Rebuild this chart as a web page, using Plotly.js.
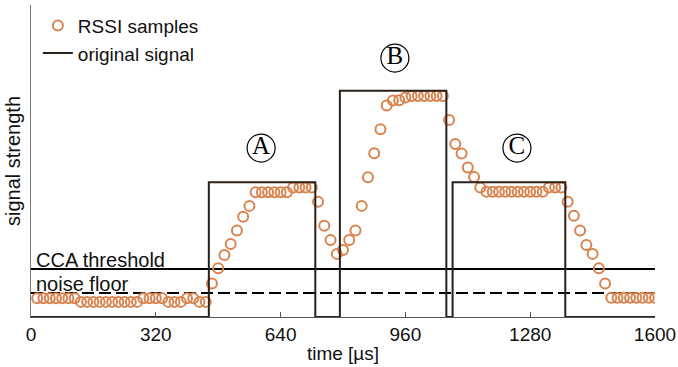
<!DOCTYPE html>
<html>
<head>
<meta charset="utf-8">
<script src="https://cdn.plot.ly/plotly-3.0.1.min.js"></script>
<style>html,body{margin:0;padding:0;background:#fff;}#chart{width:678px;height:367px;}</style>
</head>
<body>
<div id="chart"></div>
<script>
// RSSI sample times (µs) and values (arbitrary signal-strength units)
const sampleTimes = [16,32,48,64,80,96,112,128,144,160,176,192,208,224,240,256,272,288,304,320,
  336,352,368,384,400,416,432,448,464,480,496,512,528,544,560,576,592,608,624,640,
  656,672,688,704,720,736,752,768,784,800,816,832,848,864,880,896,912,928,944,960,
  976,992,1008,1024,1040,1056,1072,1088,1104,1120,1136,1152,1168,1184,1200,1216,1232,1248,1264,1280,
  1296,1312,1328,1344,1360,1376,1392,1408,1424,1440,1456,1472,1488,1504,1520,1536,1552,1568,1584,1600];
const rssiValues = [0.78,0.78,0.78,0.78,0.78,0.78,0.78,0.63,0.63,0.63,0.63,0.63,0.63,0.63,0.63,0.63,0.63,0.78,0.78,0.78,
  0.78,0.63,0.63,0.63,0.78,0.78,0.63,0.63,1.40,2.03,2.58,3.04,3.60,4.18,4.63,5.20,5.20,5.20,5.20,5.20,
  5.20,5.40,5.40,5.40,5.40,4.80,3.80,3.21,2.63,2.79,3.21,3.60,4.63,5.82,6.82,7.82,8.81,9.02,9.03,9.15,
  9.21,9.21,9.21,9.21,9.21,9.21,8.21,7.21,6.81,6.23,5.83,5.40,5.22,5.22,5.22,5.22,5.22,5.22,5.22,5.22,
  5.22,5.22,5.40,5.40,5.40,4.80,4.22,3.60,3.00,2.63,2.03,1.40,0.80,0.80,0.80,0.80,0.80,0.80,0.80,0.80];

// original signal (step function): A, B, C transmissions
const signalTimes = [0,456,456,729,729,792,792,1065,1065,1081,1081,1370,1370,1600];
const signalValues = [0,0,5.61,5.61,0,0,9.43,9.43,0,0,5.61,5.61,0,0];

// reference levels
const levelTimes = [0,1600];
const ccaThreshold = 2.0;
const noiseFloor = 1.0;

// circled labels
const labelText = ["A","B","C"];
const labelX = [590,933,1246];
const labelY = [7.04,10.79,7.04];

// axis ticks
const tickVals = [0,320,640,960,1280,1600];
const tickText = ["0","320","640","960","1280","1600"];

const FONT = "Liberation Sans, Arial, Helvetica, sans-serif";
const traces = [
  {x: levelTimes, y: [ccaThreshold, ccaThreshold], mode: "lines", line: {color: "#000", width: 2}, showlegend: false, hoverinfo: "skip"},
  {x: levelTimes, y: [noiseFloor, noiseFloor], mode: "lines", line: {color: "#000", width: 2, dash: "12px,5px"}, showlegend: false, hoverinfo: "skip"},
  {x: sampleTimes, y: rssiValues, mode: "markers", name: "RSSI samples",
   marker: {symbol: "circle-open", size: 10, color: "#D9834F", line: {width: 2, color: "#D9834F"}}},
  {x: signalTimes, y: signalValues, mode: "lines", name: "original signal", line: {color: "#2a211b", width: 2}},
  {x: labelX, y: labelY, text: labelText, mode: "markers+text", textposition: "middle center",
   textfont: {family: "Liberation Serif, Times New Roman, serif", size: 25, color: "#000"},
   marker: {symbol: "circle-open", size: 28, color: "#000", line: {width: 1.2, color: "#000"}},
   showlegend: false, hoverinfo: "skip"}
];

const layout = {
  width: 678, height: 367,
  margin: {l: 31, r: 23, t: 5, b: 50},
  paper_bgcolor: "#fff", plot_bgcolor: "#fff",
  font: {family: FONT, size: 19, color: "#111"},
  showlegend: true,
  legend: {x: 0.011, y: 0.995, xanchor: "left", yanchor: "top", bgcolor: "rgba(0,0,0,0)", borderwidth: 0,
           font: {family: FONT, size: 19, color: "#111"}, tracegroupgap: 0},
  xaxis: {range: [0, 1600], tickvals: tickVals, ticktext: tickText, ticks: "inside", ticklen: 5, tickcolor: "#555",
          showline: true, linecolor: "#555", linewidth: 1, showgrid: false, zeroline: false,
          tickfont: {family: FONT, size: 19, color: "#111"},
          title: {text: "time [µs]", font: {family: FONT, size: 19, color: "#111"}, standoff: 2}},
  yaxis: {range: [0, 13], showticklabels: false, ticks: "", showline: true, linecolor: "#777", linewidth: 1,
          showgrid: false, zeroline: false,
          title: {text: "signal strength", font: {family: FONT, size: 20, color: "#111"}, standoff: 4}},
  annotations: [
    {x: 8, y: ccaThreshold, xref: "x", yref: "y", text: "CCA threshold", showarrow: false, xanchor: "left", yanchor: "bottom", yshift: -4,
     font: {family: FONT, size: 20, color: "#111"}},
    {x: 8, y: noiseFloor, xref: "x", yref: "y", text: "noise floor", showarrow: false, xanchor: "left", yanchor: "bottom", yshift: -4,
     font: {family: FONT, size: 20, color: "#111"}}
  ]
};

Plotly.newPlot("chart", traces, layout, {displayModeBar: false, staticPlot: true});
</script>
</body>
</html>
